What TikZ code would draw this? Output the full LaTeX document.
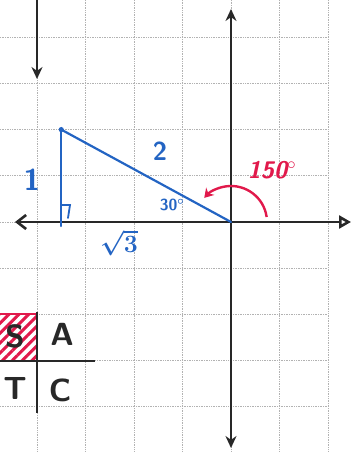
\documentclass[tikz,border=0pt]{standalone}
\usepackage{tikz}
\usetikzlibrary{arrows.meta,patterns.meta}

\definecolor{penblue}{RGB}{35,100,195}
\definecolor{penred}{RGB}{225,25,75}
\definecolor{penblack}{RGB}{40,40,40}

\tikzset{
  gridline/.style={gray!60, densely dotted, line width=0.7pt},
  axisline/.style={penblack, line width=2.6pt},
  blueline/.style={penblue, line width=2.2pt, line cap=round},
  redline/.style={penred, line width=2.4pt},
  bluetext/.style={penblue, font=\sffamily\bfseries\boldmath\fontsize{#1}{#1}\selectfont},
  redtext/.style={penred, font=\sffamily\bfseries\itshape\fontsize{#1}{#1}\selectfont},
  tabletext/.style={penblack, font=\sffamily\bfseries\fontsize{32}{32}\selectfont}
}

\begin{document}
\begin{tikzpicture}[x=1pt,y=1pt]
  \def\cellW{48.5}
  \def\H{46.2}

  \useasboundingbox (-231,-230) rectangle (128,222);
  \clip (-231,-230) rectangle (128,222);

  % Draw grid
  \foreach \col in {-4,...,2} {
    \draw[gridline] ({\col*\cellW},222) -- ({\col*\cellW},-230);
  }
  \foreach \row in {-4,...,4} {
    \draw[gridline] (-231,{\row*\H}) -- ({2*\cellW},{\row*\H});
  }

  % Quadrant table (bottom left)
  \fill[pattern={Lines[angle=45,distance=7pt,line width=3pt]}, pattern color=penred]
    (-231,-92) rectangle (-194,-139);
  \draw[penred, line width=2pt] (-231,-92) -- (-194,-92);
  \coordinate (tabT) at (-194,-90);
  \coordinate (tabB) at (-194,-191);
  \coordinate (tabL) at (-231,-139);
  \coordinate (tabR) at (-136,-139);
  \draw[axisline, line width=2.2pt] (tabT) -- (tabB);
  \draw[axisline, line width=2.2pt] (tabL) -- (tabR);
  \node[tabletext] (qS) at (-216,-114) {S};
  \node[tabletext] (qA) at (-169,-112) {A};
  \node[tabletext] (qT) at (-216,-166) {T};
  \node[tabletext] (qC) at (-171,-168) {C};

  % Arrow left over from the graph above
  \coordinate (oldTop) at (-194,222);
  \coordinate (oldTip) at (-194,143);
  \draw[axisline, -{Stealth[length=12pt,width=11pt]}] (oldTop) -- (oldTip);

  % Axes
  \coordinate (O) at (0,0);
  \coordinate (xL) at (-216,0);
  \coordinate (xR) at (120,0);
  \coordinate (yT) at (0,213);
  \coordinate (yB) at (0,-226);
  \draw[axisline, {Straight Barb[length=9pt,width=14pt]}-{Triangle[open,length=12pt,width=13pt]}] (xL) -- (xR);
  \draw[axisline, {Stealth[length=12pt,width=11pt]}-{Stealth[length=12pt,width=11pt]}] (yB) -- (yT);

  % Reference triangle
  \coordinate (P) at ({-3.5*\cellW},{2*\H});
  \coordinate (Q) at ({-3.5*\cellW},-4);
  \draw[blueline] (P) -- (O);
  \draw[blueline] (P) -- (Q);
  \fill[penblue] (P) circle (2.6);
  \draw[blueline, line width=1.8pt] (-169,17) -- (-161,17) -- (-163,4);

  % Side and angle labels
  \node[bluetext=30] (sideA) at (-199,42) {1};
  \node[bluetext=26] (sideH) at (-71,71) {2};
  \node[bluetext=30] (sideB) at (-112,-21) {$\sqrt{3}$};
  \node[bluetext=16] (angRef) at (-59,17) {30$^\circ$};

  % 150 degree rotation
  \draw[redline, -{Stealth[length=9pt,width=11pt]}] (8:36) arc[start angle=8, end angle=138, radius=36];
  \node[redtext=24] (angStd) at (41,52) {150$^\circ$};
\end{tikzpicture}
\end{document}
